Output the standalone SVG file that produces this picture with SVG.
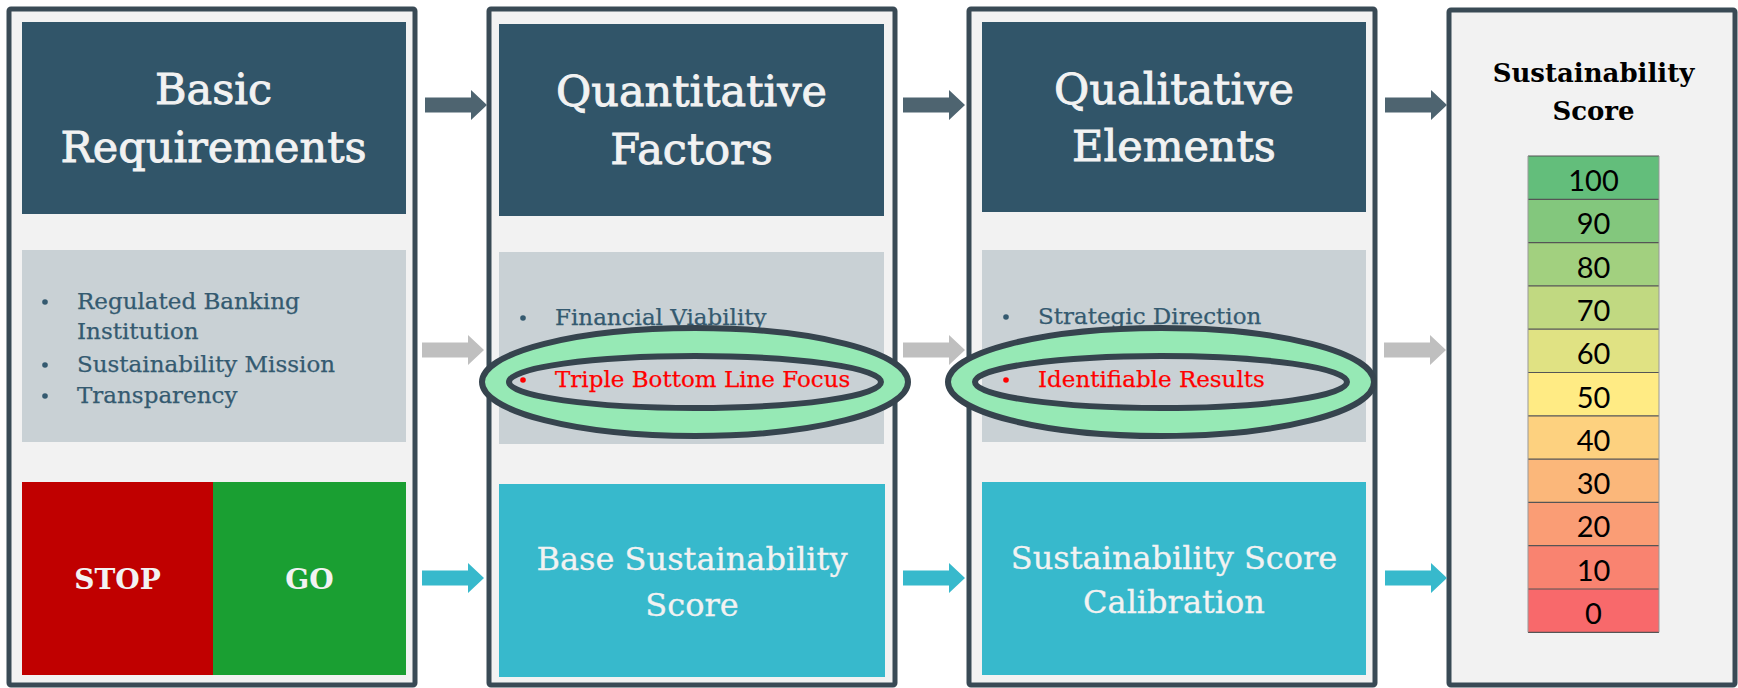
<svg xmlns="http://www.w3.org/2000/svg" width="1738" height="688" viewBox="0 0 1738 688">
<style>
.panel{fill:#f2f2f2;stroke:#394a55;stroke-width:5}
.hdr{fill:#315569}
.gray{fill:#c9d1d5}
.teal{fill:#37b9cc}
.ht{font-family:"DejaVu Serif",serif;font-size:43px;fill:#f2f2f2;stroke:#f2f2f2;stroke-width:0.9;text-anchor:middle}
.tt{font-family:"DejaVu Serif",serif;font-size:32px;fill:#f2f2f2;stroke:#f2f2f2;stroke-width:0.3;text-anchor:middle}
.bt{font-family:"DejaVu Serif",serif;font-size:23px;fill:#345a70;stroke:#345a70;stroke-width:0.25}
.rt{font-family:"DejaVu Serif",serif;font-size:23px;fill:#ff0000;stroke:#ff0000;stroke-width:0.25}
.sg{font-family:"DejaVu Serif",serif;font-size:28px;font-weight:bold;fill:#f2f2f2;text-anchor:middle}
.st{font-family:"DejaVu Serif",serif;font-size:26px;font-weight:bold;fill:#000;text-anchor:middle}
.num{font-family:Lato,"Liberation Sans",sans-serif;font-size:29px;fill:#000;text-anchor:middle}
.cell{stroke:#555;stroke-width:1.2}
.ring{fill:#96e9b5;stroke:#36444e;stroke-width:6;fill-rule:evenodd}
.a1{fill:#4e6470}
.a2{fill:#bfbfbf}
.a3{fill:#37b9cc}
</style>
<defs>
<path id="arr" d="M0 -7.5 H46 V-15 L62 0 L46 15 V7.5 H0 Z"/>
</defs>

<g id="panel-basic">
<rect class="panel" x="9" y="9" width="406" height="676" rx="2"/>
<rect class="hdr" x="22" y="22" width="384" height="192"/>
<text class="ht" x="213.5" y="104">Basic</text>
<text class="ht" x="213.5" y="162">Requirements</text>
<rect class="gray" x="22" y="250" width="384" height="192"/>
<circle cx="45" cy="302" r="2.8" fill="#345a70"/>
<text class="bt" x="77" y="309">Regulated Banking</text>
<text class="bt" x="77" y="339">Institution</text>
<circle cx="45" cy="365" r="2.8" fill="#345a70"/>
<text class="bt" x="77" y="372">Sustainability Mission</text>
<circle cx="45" cy="396" r="2.8" fill="#345a70"/>
<text class="bt" x="77" y="403">Transparency</text>
<rect x="22" y="482" width="191" height="193" fill="#c00000"/>
<rect x="213" y="482" width="193" height="193" fill="#1a9f32"/>
<text class="sg" x="117.5" y="589">STOP</text>
<text class="sg" x="309.5" y="589">GO</text>
</g>

<g id="panel-quant">
<rect class="panel" x="489" y="9" width="406" height="676" rx="2"/>
<rect class="hdr" x="499" y="24" width="385" height="192"/>
<text class="ht" x="691.5" y="106">Quantitative</text>
<text class="ht" x="691.5" y="164">Factors</text>
<rect class="gray" x="499" y="252" width="385" height="192"/>
<circle cx="523" cy="318" r="2.8" fill="#345a70"/>
<text class="bt" x="555" y="325">Financial Viability</text>
<circle cx="523" cy="380" r="2.8" fill="#ff0000"/>
<text class="rt" x="555" y="387">Triple Bottom Line Focus</text>
<rect class="teal" x="499" y="484" width="386" height="193"/>
<text class="tt" x="692" y="570">Base Sustainability</text>
<text class="tt" x="692" y="616">Score</text>
</g>

<g id="panel-qual">
<rect class="panel" x="969" y="9" width="406" height="676" rx="2"/>
<rect class="hdr" x="982" y="22" width="384" height="190"/>
<text class="ht" x="1174" y="104">Qualitative</text>
<text class="ht" x="1174" y="161">Elements</text>
<rect class="gray" x="982" y="250" width="384" height="192"/>
<circle cx="1006" cy="317" r="2.8" fill="#345a70"/>
<text class="bt" x="1038" y="324">Strategic Direction</text>
<circle cx="1006" cy="380" r="2.8" fill="#ff0000"/>
<text class="rt" x="1038" y="387">Identifiable Results</text>
<rect class="teal" x="982" y="482" width="384" height="193"/>
<text class="tt" x="1174" y="569">Sustainability Score</text>
<text class="tt" x="1174" y="613">Calibration</text>
</g>

<g id="panel-score">
<rect class="panel" x="1449" y="10" width="286" height="675" rx="2"/>
<text class="st" x="1593.5" y="82">Sustainability</text>
<text class="st" x="1593.5" y="120">Score</text>
<g id="scale">
<rect x="1528" y="156" width="131" height="43.3" fill="#63be7b"/>
<rect x="1528" y="199.3" width="131" height="43.3" fill="#83c77d"/>
<rect x="1528" y="242.6" width="131" height="43.3" fill="#a2d07f"/>
<rect x="1528" y="285.9" width="131" height="43.3" fill="#c1d981"/>
<rect x="1528" y="329.2" width="131" height="43.3" fill="#e0e283"/>
<rect x="1528" y="372.5" width="131" height="43.3" fill="#ffeb84"/>
<rect x="1528" y="415.8" width="131" height="43.3" fill="#fdd17f"/>
<rect x="1528" y="459.1" width="131" height="43.3" fill="#fbb77a"/>
<rect x="1528" y="502.4" width="131" height="43.3" fill="#fa9d75"/>
<rect x="1528" y="545.7" width="131" height="43.3" fill="#f98370"/>
<rect x="1528" y="589" width="131" height="43.3" fill="#f8696b"/>
<path class="cell" fill="none" d="M1528 156 H1659 M1528 199.3 H1659 M1528 242.6 H1659 M1528 285.9 H1659 M1528 329.2 H1659 M1528 372.5 H1659 M1528 415.8 H1659 M1528 459.1 H1659 M1528 502.4 H1659 M1528 545.7 H1659 M1528 589 H1659 M1528 632.3 H1659"/>
<path fill="none" stroke="#999" stroke-width="1" d="M1528 156 V632.3 M1659 156 V632.3"/>
<text class="num" x="1593.5" y="191">100</text>
<text class="num" x="1593.5" y="234.3">90</text>
<text class="num" x="1593.5" y="277.6">80</text>
<text class="num" x="1593.5" y="320.9">70</text>
<text class="num" x="1593.5" y="364.2">60</text>
<text class="num" x="1593.5" y="407.5">50</text>
<text class="num" x="1593.5" y="450.8">40</text>
<text class="num" x="1593.5" y="494.1">30</text>
<text class="num" x="1593.5" y="537.4">20</text>
<text class="num" x="1593.5" y="580.7">10</text>
<text class="num" x="1593.5" y="624">0</text>
</g>
</g>

<g id="connectors">
<use href="#arr" class="a1" x="425" y="105"/>
<use href="#arr" class="a1" x="903" y="105"/>
<use href="#arr" class="a1" x="1385" y="105"/>
<use href="#arr" class="a2" x="422" y="350"/>
<use href="#arr" class="a2" x="903" y="350"/>
<use href="#arr" class="a2" x="1384" y="350"/>
<use href="#arr" class="a3" x="422" y="578"/>
<use href="#arr" class="a3" x="903" y="578"/>
<use href="#arr" class="a3" x="1385" y="578"/>
</g>

<g id="highlight-quant">
<path class="ring" d="M482 382 a213 54 0 1 0 426 0 a213 54 0 1 0 -426 0 Z M509 382 a186 26 0 1 0 372 0 a186 26 0 1 0 -372 0 Z"/>
</g>
<g id="highlight-qual">
<path class="ring" d="M948 382 a213 54 0 1 0 426 0 a213 54 0 1 0 -426 0 Z M975 382 a186 26 0 1 0 372 0 a186 26 0 1 0 -372 0 Z"/>
</g>
</svg>
